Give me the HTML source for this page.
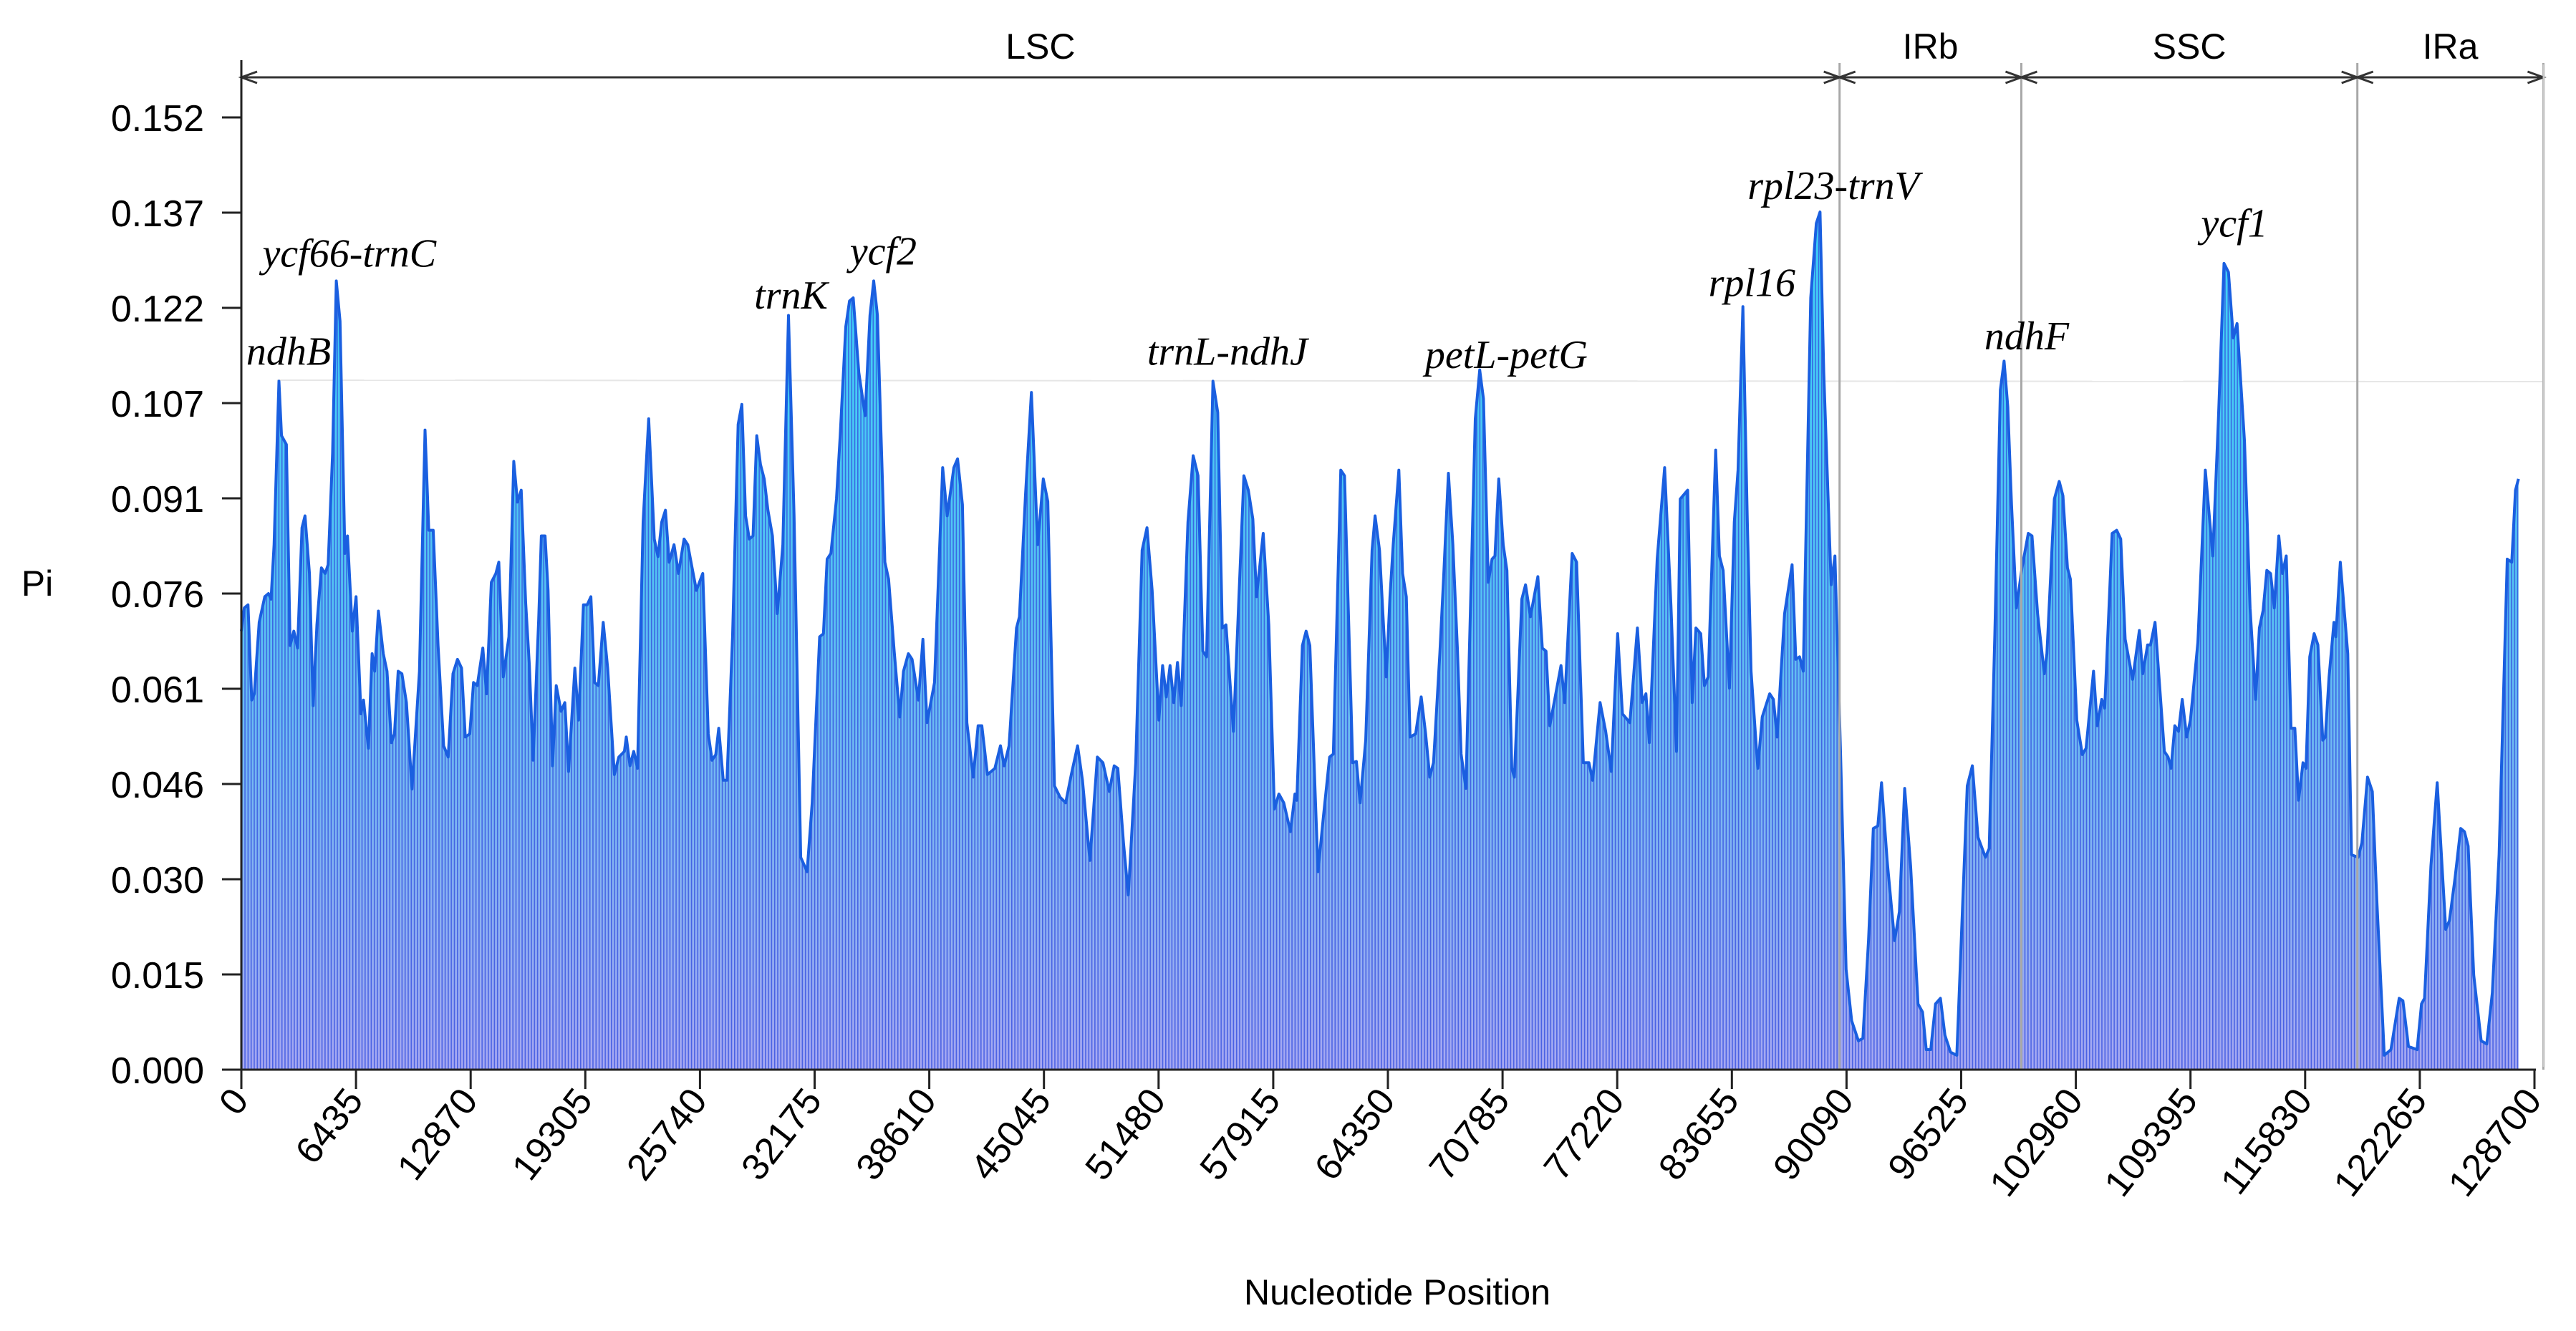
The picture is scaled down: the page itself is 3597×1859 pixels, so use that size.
<!DOCTYPE html>
<html><head><meta charset="utf-8">
<style>
html,body{margin:0;padding:0;background:#fff;}
svg{display:block;}
.tick{font-family:"Liberation Sans",sans-serif;font-size:52px;fill:#000;}
.gene{font-family:"Liberation Serif",serif;font-style:italic;font-size:56px;fill:#000;}
.reg{font-family:"Liberation Sans",sans-serif;font-size:50px;fill:#000;}
</style></head>
<body>
<svg id="chart" width="3597" height="1859" viewBox="0 0 3597 1859" xmlns="http://www.w3.org/2000/svg">
<defs>
<linearGradient id="fillGrad" x1="0" y1="0" x2="0" y2="1" gradientUnits="objectBoundingBox">
<stop offset="0" stop-color="#3ad6f7"/>
<stop offset="0.45" stop-color="#55c2f2"/>
<stop offset="1" stop-color="#a7a8f2"/>
</linearGradient>
<pattern id="stripes" x="337" y="0" width="4.3" height="10" patternUnits="userSpaceOnUse">
<rect x="0" y="0" width="1.6" height="10" fill="#3550e0" opacity="0.8"/>
</pattern>
</defs>
<g id="plot"></g>
<g id="axes"></g>
</svg>
<script>
const xTicks = [0,6435,12870,19305,25740,32175,38610,45045,51480,57915,64350,70785,77220,83655,90090,96525,102960,109395,115830,122265,128700];
const yTicks = [0,0.0152,0.0304,0.0456,0.0608,0.076,0.0912,0.1064,0.1216,0.1368,0.152];
const yTickLabels = ["0.000","0.015","0.030","0.046","0.061","0.076","0.091","0.107","0.122","0.137","0.152"];
const regionBounds = [0,89700,99900,118760,129200];
const regionNames = ["LSC","IRb","SSC","IRa"];
const geneNames = ["ndhB","ycf66-trnC","trnK","ycf2","trnL-ndhJ","petL-petG","rpl16","rpl23-trnV","ndhF","ycf1"];
const genePos = [2650,6060,30850,36030,55340,71000,84780,89350,100200,111860];
const geneVal = [0.1125,0.1282,0.1215,0.1285,0.1125,0.1120,0.1235,0.1390,0.1150,0.1330];
const pos = [0,163,372,581,728,1000,1314,1523,1669,1837,2109,2255,2527,2736,2945,3155,3406,3573,3824,4033,4242,4493,4703,4870,5121,5330,5539,5811,5958,6230,6439,6711,6857,7129,7339,7485,7694,7966,8175,8426,8594,8803,9012,9263,9577,9995,10309,10518,10769,11041,11355,11606,11878,12129,12359,12569,12820,13029,13238,13552,13761,14033,14284,14451,14702,15016,15288,15497,15706,15958,16167,16376,16690,16836,17045,17213,17464,17673,17945,18154,18363,18719,18928,19200,19409,19619,19828,20037,20309,20560,20937,21188,21501,21606,21815,22024,22234,22547,22861,23175,23384,23593,23803,24012,24284,24535,24849,25058,25267,25539,25895,26208,26418,26627,26794,27045,27254,27568,27882,28091,28300,28510,28719,28928,29137,29346,29556,29807,30079,30392,30706,31020,31397,31752,
32040,32458,32668,32877,33086,33400,33609,33923,34132,34341,34655,35010,35283,35492,35701,36119,36329,36642,36956,37165,37437,37646,38002,38251,38484,38902,39362,39613,39990,40199,40471,40722,41078,41350,41559,41873,42291,42605,42814,43086,43504,43672,44006,44341,44696,45010,45261,45637,45951,46266,46579,46935,47207,47625,48044,48358,48713,48986,49194,49509,49781,50199,50555,50827,51120,51496,51705,51914,52123,52333,52542,52751,53128,53421,53693,53965,54174,54530,54802,55052,55262,55680,56266,56517,56768,56977,57354,57667,57981,58232,58504,58880,59131,59236,59550,59759,59968,60428,60742,61077,61286,61704,61914,62374,62583,62792,63106,63462,63629,63880,64257,64466,
64649,64963,65172,65381,65591,65904,66218,66469,66699,66909,67264,67473,67745,67996,68247,68457,68729,69252,69503,69712,69984,70193,70360,70570,70821,71030,71302,71448,71866,72076,72348,72766,73017,73226,73436,74063,74272,74691,74942,75318,75632,75841,76260,76574,76887,77243,77515,77933,78352,78624,78833,79021,79461,79879,80235,80548,80758,81176,81427,81637,81908,82117,82327,82745,82954,83164,83519,83791,84000,84272,84523,84733,85109,85360,85778,85988,86197,86615,87034,87243,87452,87661,88080,88394,88603,88812,89126,89230,89440,89753,90067,90381,90757,91008,91322,91594,91845,92054,92368,92786,93058,93353,93686,94103,94356,94565,94816,95088,95360,95611,95925,96280,96552,96866,
97154,97468,97886,98095,98409,98723,98932,99141,99350,99622,99936,100292,100501,100815,101191,101338,101756,102028,102237,102488,102656,103011,103325,103534,103953,104162,104413,104580,104999,105250,105480,105731,106149,106526,106714,106986,107154,107405,107928,108137,108304,108513,108723,108932,109183,109392,109810,110229,110647,110961,111275,111526,111798,112007,112426,112740,113053,113262,113472,113681,113890,114099,114350,114560,114769,115040,115250,115459,115710,115877,116086,116337,116547,116819,116965,117174,117446,117551,117802,118220,118429,118806,119015,119329,119601,119852,120270,120647,121107,121316,121630,122111,122362,122530,122886,123241,123722,123931,124245,124559,124768,124977,125291,125710,126024,126338,126714,127174,127425,127634,127802];
const pi = [0.0700,0.0737,0.0742,0.0590,0.0600,0.0714,0.0755,0.0760,0.0751,0.0838,0.1099,0.1012,0.0998,0.0677,0.0700,0.0673,0.0865,0.0884,0.0792,0.0581,0.0710,0.0801,0.0792,0.0806,0.0984,0.1259,0.1195,0.0824,0.0852,0.0700,0.0755,0.0568,0.0590,0.0513,0.0664,0.0636,0.0732,0.0664,0.0636,0.0522,0.0536,0.0636,0.0632,0.0586,0.0448,0.0636,0.1021,0.0861,0.0861,0.0677,0.0517,0.0499,0.0632,0.0655,0.0641,0.0531,0.0536,0.0618,0.0613,0.0673,0.0600,0.0778,0.0792,0.0810,0.0627,0.0691,0.0971,0.0906,0.0925,0.0746,0.0645,0.0494,0.0719,0.0852,0.0852,0.0765,0.0485,0.0613,0.0572,0.0586,0.0476,0.0641,0.0558,0.0742,0.0742,0.0755,0.0618,0.0613,0.0714,0.0641,0.0471,0.0499,0.0508,0.0531,0.0485,0.0508,0.0481,0.0874,0.1039,0.0847,0.0819,0.0874,0.0893,0.0810,0.0838,0.0792,0.0847,0.0838,0.0806,0.0765,0.0792,0.0536,0.0494,0.0503,0.0545,0.0462,0.0462,0.0691,0.1030,0.1062,0.0884,0.0847,0.0852,0.1012,0.0966,0.0943,0.0893,0.0852,0.0728,0.0838,0.1204,0.0884,0.0339,0.0316,
0.0426,0.0691,0.0696,0.0815,0.0824,0.0911,0.1012,0.1186,0.1227,0.1232,0.1113,0.1044,0.1204,0.1259,0.1204,0.0810,0.0783,0.0668,0.0563,0.0636,0.0664,0.0655,0.0590,0.0687,0.0554,0.0618,0.0961,0.0884,0.0961,0.0975,0.0902,0.0554,0.0467,0.0549,0.0549,0.0471,0.0481,0.0517,0.0485,0.0517,0.0705,0.0723,0.0916,0.1081,0.0838,0.0943,0.0907,0.0453,0.0435,0.0426,0.0471,0.0517,0.0462,0.0334,0.0499,0.0490,0.0444,0.0485,0.0481,0.0362,0.0279,0.0490,0.0829,0.0865,0.0765,0.0558,0.0645,0.0595,0.0645,0.0586,0.0650,0.0581,0.0874,0.0980,0.0948,0.0668,0.0659,0.1099,0.1049,0.0705,0.0710,0.0540,0.0948,0.0925,0.0879,0.0755,0.0856,0.0710,0.0416,0.0440,0.0426,0.0380,0.0440,0.0430,0.0677,0.0700,0.0677,0.0316,0.0407,0.0499,0.0504,0.0957,0.0948,0.0490,0.0492,0.0426,0.0526,0.0829,0.0884,0.0829,0.0627,0.0755,
0.0838,0.0957,0.0792,0.0755,0.0531,0.0536,0.0595,0.0536,0.0467,0.0490,0.0664,0.0783,0.0952,0.0838,0.0673,0.0504,0.0449,0.1039,0.1117,0.1071,0.0778,0.0815,0.0820,0.0943,0.0838,0.0797,0.0481,0.0467,0.0751,0.0774,0.0723,0.0787,0.0673,0.0668,0.0549,0.0645,0.0586,0.0824,0.0810,0.0490,0.0490,0.0462,0.0586,0.0540,0.0476,0.0696,0.0568,0.0554,0.0705,0.0586,0.0600,0.0522,0.0815,0.0961,0.0742,0.0508,0.0911,0.0925,0.0586,0.0705,0.0696,0.0613,0.0627,0.0989,0.0820,0.0797,0.0609,0.0874,0.0957,0.1218,0.0874,0.0636,0.0481,0.0563,0.0600,0.0591,0.0531,0.0728,0.0806,0.0655,0.0659,0.0636,0.1232,0.1351,0.1369,0.1113,0.0856,0.0774,0.0820,0.0508,0.0160,0.0078,0.0046,0.0050,0.0206,0.0385,0.0389,0.0458,0.0334,0.0206,0.0252,0.0449,0.0325,0.0105,0.0092,0.0032,0.0032,0.0105,0.0114,0.0055,0.0028,0.0023,0.0224,0.0453,
0.0485,0.0371,0.0339,0.0353,0.0691,0.1085,0.1131,0.1058,0.0902,0.0737,0.0801,0.0856,0.0852,0.0728,0.0632,0.0664,0.0911,0.0939,0.0916,0.0801,0.0783,0.0558,0.0503,0.0513,0.0636,0.0549,0.0591,0.0577,0.0856,0.0861,0.0847,0.0687,0.0623,0.0701,0.0632,0.0678,0.0678,0.0714,0.0508,0.0499,0.0481,0.0549,0.0540,0.0591,0.0531,0.0558,0.0682,0.0957,0.0820,0.1039,0.1287,0.1273,0.1168,0.1191,0.1003,0.0737,0.0591,0.0705,0.0733,0.0797,0.0792,0.0737,0.0852,0.0792,0.0820,0.0545,0.0545,0.0430,0.0490,0.0481,0.0659,0.0696,0.0678,0.0526,0.0531,0.0627,0.0714,0.0691,0.0810,0.0664,0.0343,0.0339,0.0362,0.0467,0.0444,0.0270,0.0023,0.0032,0.0114,0.0110,0.0037,0.0032,0.0105,0.0114,0.0325,0.0458,0.0224,0.0238,0.0307,0.0385,0.0380,0.0357,0.0151,0.0046,0.0041,0.0123,0.0343,0.0815,0.0810,0.0925,0.0943];

const NS = "http://www.w3.org/2000/svg";
const X0 = 337, X1 = 3539, Y0 = 1494, Y1 = 164;
function xs(b){ return X0 + b/128700*(X1-X0); }
function ys(v){ return Y0 - v/0.152*(Y0-Y1); }
function mk(tag, attrs, parent){ const e = document.createElementNS(NS, tag); for (const k in attrs) e.setAttribute(k, attrs[k]); parent.appendChild(e); return e; }
const plot = document.getElementById('plot');
const axes = document.getElementById('axes');

const ref = mk('line', {x1: xs(2000), x2: X1+14, y1: 531, y2: 533, stroke: '#e6e6e6', 'stroke-width': 2}, plot);



let d = 'M' + xs(pos[0]) + ',' + Y0;
for (let i = 0; i < pos.length; i++) d += ' L' + xs(pos[i]).toFixed(1) + ',' + ys(pi[i]).toFixed(1);
d += ' L' + xs(pos[pos.length-1]).toFixed(1) + ',' + Y0 + ' Z';
const area = mk('path', {d: d, fill: 'url(#fillGrad)'}, plot);


const stripe = mk('path', {d: d, fill: 'url(#stripes)'}, plot);


let ld = '';
for (let i = 0; i < pos.length; i++) ld += (i ? ' L' : 'M') + xs(pos[i]).toFixed(1) + ',' + ys(pi[i]).toFixed(1);
const line = mk('path', {d: ld, fill: 'none', stroke: '#1a5fe0', 'stroke-width': 4, 'stroke-linejoin': 'round'}, plot);



for (let i = 1; i < regionBounds.length; i++) {
  const bx = xs(regionBounds[i]);
  const bl = mk('line', {x1: bx, x2: bx, y1: 88, y2: Y0, stroke: '#a8a8a8', 'stroke-width': 3}, axes);
  
  
}
const arr = mk('line', {x1: X0, x2: xs(regionBounds[4]), y1: 108, y2: 108, stroke: '#333', 'stroke-width': 3}, axes);


for (let i = 0; i < regionBounds.length; i++) {
  const bx = xs(regionBounds[i]);
  if (i > 0) {
    const h = mk('path', {d: 'M'+(bx-22)+',100 L'+bx+',108 L'+(bx-22)+',116', fill: 'none', stroke: '#333', 'stroke-width': 3}, axes);
    
    
  }
  if (i < regionBounds.length - 1) {
    const h2 = mk('path', {d: 'M'+(bx+22)+',100 L'+bx+',108 L'+(bx+22)+',116', fill: 'none', stroke: '#333', 'stroke-width': 3}, axes);
    
    
  }
}
for (let i = 0; i < regionNames.length; i++) {
  const t = mk('text', {x: (xs(regionBounds[i]) + xs(regionBounds[i+1]))/2, y: 82, 'text-anchor': 'middle', class: 'reg'}, axes);
  t.textContent = regionNames[i];
  
  
}

const ya = mk('line', {x1: X0, x2: X0, y1: 84, y2: Y0, stroke: '#222', 'stroke-width': 3}, axes);


const xa = mk('line', {x1: X0-27, x2: X1+2, y1: Y0, y2: Y0, stroke: '#222', 'stroke-width': 3}, axes);



for (let i = 0; i < yTicks.length; i++) {
  const y = ys(yTicks[i]);
  const tk = mk('line', {x1: X0-27, x2: X0, y1: y, y2: y, stroke: '#222', 'stroke-width': 3}, axes);
  
  
  const t = mk('text', {x: 285, y: y + 19, 'text-anchor': 'end', class: 'tick'}, axes);
  t.textContent = yTickLabels[i];
  
  
}
for (let i = 0; i < xTicks.length; i++) {
  const x = xs(xTicks[i]);
  const tk = mk('line', {x1: x, x2: x, y1: Y0, y2: Y0+27, stroke: '#222', 'stroke-width': 3}, axes);
  
  
  const t = mk('text', {x: x + 12, y: Y0 + 44, 'text-anchor': 'end', class: 'tick', transform: 'rotate(-52 ' + (x+12) + ' ' + (Y0+44) + ')'}, axes);
  t.textContent = String(xTicks[i]);
  
  
}

for (let i = 0; i < geneNames.length; i++) {
  const t = mk('text', {x: xs(genePos[i]), y: ys(geneVal[i]), 'text-anchor': 'middle', class: 'gene'}, axes);
  t.textContent = geneNames[i];
  
  
}

const rf = mk('line', {x1: 3552, x2: 3552, y1: 90, y2: 1490, stroke: '#c8c8c8', 'stroke-width': 3}, axes);



const yt = mk('text', {x: 52, y: 832, 'text-anchor': 'middle', class: 'reg', 'font-size': '54'}, axes);
yt.textContent = 'Pi';


const xt = mk('text', {x: 1951, y: 1822, 'text-anchor': 'middle', class: 'reg', 'font-size': '57'}, axes);
xt.textContent = 'Nucleotide Position';


</script>
</body></html>
